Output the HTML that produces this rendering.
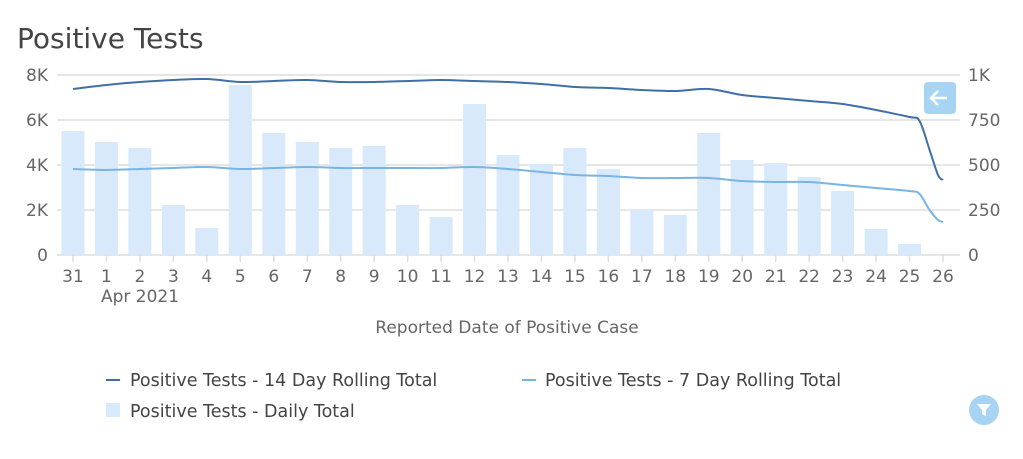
<!DOCTYPE html><html><head><style>body{margin:0;background:#fff}</style></head><body>
<svg width="1023" height="454" xmlns="http://www.w3.org/2000/svg" font-family="DejaVu Sans, sans-serif">
<text x="17" y="48" font-size="28" fill="#444">Positive Tests</text>
<g stroke="#ddd" stroke-width="1.5">
<line x1="57" x2="960" y1="75" y2="75"/><line x1="57" x2="960" y1="120" y2="120"/><line x1="57" x2="960" y1="165" y2="165"/><line x1="57" x2="960" y1="210" y2="210"/><line x1="57" x2="960" y1="255" y2="255"/></g>
<g font-size="17" fill="#666" text-anchor="end">
<text x="48" y="81">8K</text><text x="48" y="126">6K</text><text x="48" y="171">4K</text><text x="48" y="216">2K</text><text x="48" y="261">0</text></g>
<g font-size="17" fill="#666">
<text x="968" y="81">1K</text><text x="968" y="126">750</text><text x="968" y="171">500</text><text x="968" y="216">250</text><text x="968" y="261">0</text></g>
<g fill="#d8e9fc" id="bars"></g>
<g id="ticks" font-size="17" fill="#666" text-anchor="middle"></g>
<text x="140" y="302" font-size="17" fill="#666" text-anchor="middle">Apr 2021</text>
<text x="507" y="333" font-size="17" fill="#666" text-anchor="middle">Reported Date of Positive Case</text>
<path id="dark" fill="none" stroke="#3f6fa6" stroke-width="2"/>
<path id="light" fill="none" stroke="#79b4e3" stroke-width="2"/>
<rect x="924" y="82" width="32" height="32" rx="4" fill="#a8d4f3"/>
<path d="M947 98 H931 M938 91 L931 98 L938 105" stroke="#fff" stroke-width="2.5" fill="none"/>
<line x1="106" x2="120" y1="380" y2="380" stroke="#3f6fa6" stroke-width="2"/>
<text x="130" y="386" font-size="17.5" fill="#444">Positive Tests - 14 Day Rolling Total</text>
<line x1="522" x2="536" y1="380" y2="380" stroke="#79b4e3" stroke-width="2"/>
<text x="545" y="386" font-size="17.5" fill="#444">Positive Tests - 7 Day Rolling Total</text>
<rect x="106" y="403" width="14" height="14" fill="#d8e9fc"/>
<text x="130" y="417" font-size="17.5" fill="#444">Positive Tests - Daily Total</text>
<circle cx="984" cy="410" r="15" fill="#a8d4f3"/>
<path d="M977 404 H991 L986 410 V416 L982 414 V410 Z" fill="#fff"/>
</svg>
<script>
var x0=73,dx=(943-73)/26,ns="http://www.w3.org/2000/svg";
var labels=["31"];for(var i=1;i<=26;i++)labels.push(""+i);
var tops=[131,142,148,205,228,85,133,142,148,146,205,217,104,155,164,148,169,210,215,133,160,163,177,191,229,244];
var b=document.getElementById("bars"),t=document.getElementById("ticks");
tops.forEach(function(y,i){var r=document.createElementNS(ns,"rect");r.setAttribute("x",x0+i*dx-11.5);r.setAttribute("y",y);r.setAttribute("width",23);r.setAttribute("height",255-y);b.appendChild(r);});
labels.forEach(function(l,i){var x=x0+i*dx;var tx=document.createElementNS(ns,"text");tx.setAttribute("x",x);tx.setAttribute("y",282);tx.textContent=l;t.appendChild(tx);var ln=document.createElementNS(ns,"line");ln.setAttribute("x1",x);ln.setAttribute("x2",x);ln.setAttribute("y1",255);ln.setAttribute("y2",262);ln.setAttribute("stroke","#ddd");ln.setAttribute("stroke-width","1.5");t.appendChild(ln);});
function path(v,id){var P=v.map(function(p){return[x0+p[0]*dx,p[1]]});var d="M"+P[0][0].toFixed(1)+" "+P[0][1];
for(var i=0;i<P.length-1;i++){var p0=P[i-1]||P[i],p1=P[i],p2=P[i+1],p3=P[i+2]||p2;
var c1=[p1[0]+(p2[0]-p0[0])/6,p1[1]+(p2[1]-p0[1])/6],c2=[p2[0]-(p3[0]-p1[0])/6,p2[1]-(p3[1]-p1[1])/6];
d+="C"+c1[0].toFixed(1)+" "+c1[1].toFixed(1)+" "+c2[0].toFixed(1)+" "+c2[1].toFixed(1)+" "+p2[0].toFixed(1)+" "+p2[1];}
document.getElementById(id).setAttribute("d",d);}
var dk=[89,85,82,80,79,82,81,80,82,82,81,80,81,82,84,87,88,90,91,89,95,98,101,104,110,117].map(function(y,i){return[i,y]});
dk.push([25.3,121],[25.6,150],[25.85,175],[26,180]);path(dk,"dark");
var lt=[169,170,169,168,167,169,168,167,168,168,168,168,167,169,172,175,176,178,178,178,181,182,182,185,188,191].map(function(y,i){return[i,y]});
lt.push([25.3,194],[25.6,210],[25.85,220],[26,222]);path(lt,"light");
</script>
</body></html>
